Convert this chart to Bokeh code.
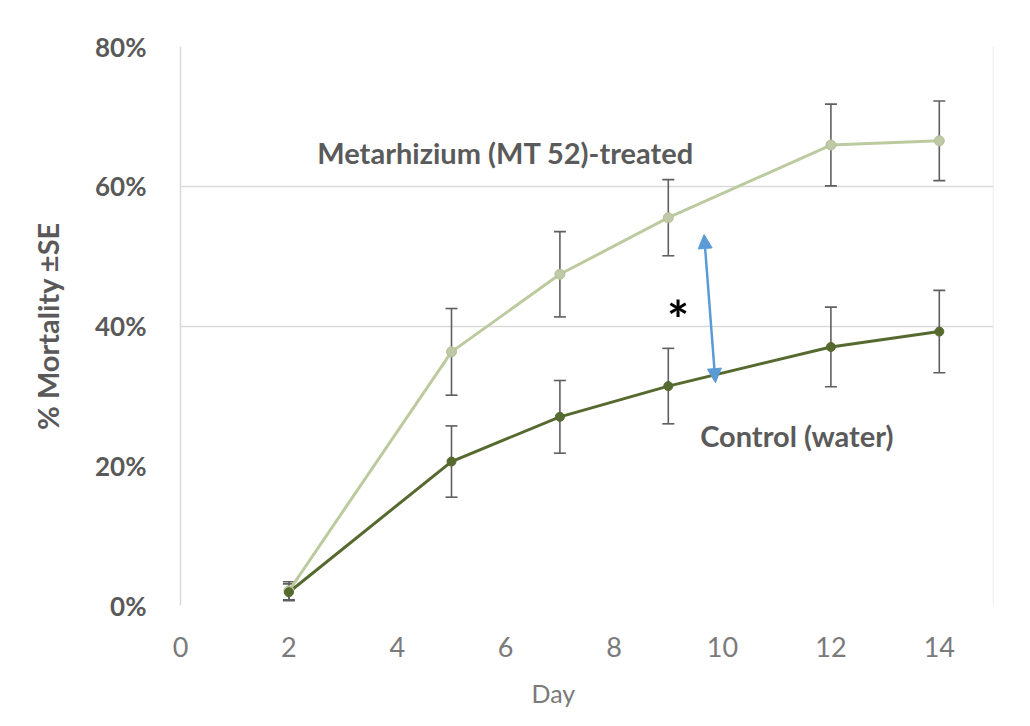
from bokeh.plotting import figure
from bokeh.models import (ColumnDataSource, Whisker, TeeHead, Label, Arrow,
                          NormalHead, FixedTicker, Span, Range1d, Title)
from bokeh.embed import file_html
from bokeh.resources import INLINE

# ---- data ----
days = [2, 5, 7, 9, 12, 14]
treated = [2.1, 36.3, 47.4, 55.5, 65.9, 66.5]
treated_se = [1.3, 6.2, 6.1, 5.45, 5.85, 5.7]
control = [1.9, 20.6, 27.0, 31.4, 37.0, 39.2]
control_se = [1.2, 5.1, 5.2, 5.4, 5.7, 5.9]
x_ticks = [0, 2, 4, 6, 8, 10, 12, 14]
y_ticks = [0, 20, 40, 60, 80]
y_tick_labels = {0: "0%", 20: "20%", 40: "40%", 60: "60%", 80: "80%"}
treated_label = "Metarhizium (MT 52)-treated"
control_label = "Control (water)"
x_title = "Day"
y_title = "% Mortality ±SE"
arrow_x = [9.66, 9.87]
arrow_y = [53.1, 31.9]
star_pos = (9.18, 41.0)

FONT = "Lato"
TREAT_COLOR = "#bccb9f"
CTRL_COLOR = "#56692e"
ERR_COLOR = "#5f5f5f"

p = figure(width=1030, height=726, output_backend="svg", toolbar_location=None,
           x_range=Range1d(0, 15), y_range=Range1d(0, 80),
           min_border_left=180, min_border_right=37, min_border_top=46,
           min_border_bottom=121)
p.outline_line_color = None
p.background_fill_color = "white"
p.border_fill_color = "white"

# axes
p.xaxis.ticker = FixedTicker(ticks=x_ticks)
p.yaxis.ticker = FixedTicker(ticks=y_ticks)
p.yaxis.major_label_overrides = y_tick_labels
for ax in (p.xaxis[0], p.yaxis[0]):
    ax.major_tick_line_color = None
    ax.minor_tick_line_color = None
p.xaxis.axis_line_color = None
p.yaxis.axis_line_color = "#d9d9d9"
p.yaxis.axis_line_width = 1.5
p.xaxis.major_label_text_font = FONT
p.xaxis.major_label_text_font_size = "27px"
p.xaxis.major_label_text_color = "#7a7a7a"
p.xaxis.major_label_standoff = 25
p.yaxis.major_label_text_font = FONT
p.yaxis.major_label_text_font_size = "26px"
p.yaxis.major_label_text_font_style = "bold"
p.yaxis.major_label_text_color = "#595959"
p.yaxis.major_label_standoff = 28
p.yaxis.axis_label = y_title
p.yaxis.axis_label_text_font = FONT
p.yaxis.axis_label_text_font_size = "29px"
p.yaxis.axis_label_text_font_style = "bold"
p.yaxis.axis_label_text_color = "#595959"
p.yaxis.axis_label_standoff = 27

# x-axis title, positioned like the original (left of centre)
p.add_layout(Title(text=x_title, align="left", offset=351, text_font=FONT,
                   text_font_size="25px", text_font_style="normal",
                   text_color="#7a7a7a", standoff=32), "below")

# grid
p.xgrid.grid_line_color = None
p.ygrid.ticker = FixedTicker(ticks=[40, 60, 80])
p.ygrid.grid_line_color = "#d9d9d9"
p.ygrid.grid_line_width = 1.5
p.add_layout(Span(location=15, dimension="height", line_color="#e6e6e6", line_width=1.5))

# sources
src_t = ColumnDataSource(dict(x=days, y=treated,
                              lo=[v - e for v, e in zip(treated, treated_se)],
                              hi=[v + e for v, e in zip(treated, treated_se)]))
src_c = ColumnDataSource(dict(x=days, y=control,
                              lo=[v - e for v, e in zip(control, control_se)],
                              hi=[v + e for v, e in zip(control, control_se)]))

# lines
p.line("x", "y", source=src_t, line_color=TREAT_COLOR, line_width=3)
p.line("x", "y", source=src_c, line_color=CTRL_COLOR, line_width=3)

# error bars
for src in (src_t, src_c):
    w = Whisker(source=src, base="x", upper="hi", lower="lo",
                line_color=ERR_COLOR, line_width=1.6,
                upper_head=TeeHead(size=12, line_color=ERR_COLOR, line_width=1.6),
                lower_head=TeeHead(size=12, line_color=ERR_COLOR, line_width=1.6))
    p.add_layout(w)

# markers
p.scatter("x", "y", source=src_t, size=10, fill_color="#bfc9a8",
          line_color="#b4c097", line_width=1)
p.scatter("x", "y", source=src_c, size=9, fill_color=CTRL_COLOR,
          line_color=CTRL_COLOR, line_width=1)

# labels
p.add_layout(Label(x=6.0, y=64.9, text=treated_label, text_font=FONT,
                   text_font_size="29px", text_font_style="bold",
                   text_color="#5a5a5a", text_align="center",
                   text_baseline="alphabetic"))
p.add_layout(Label(x=11.37, y=24.4, text=control_label, text_font=FONT,
                   text_font_size="29px", text_font_style="bold",
                   text_color="#5a5a5a", text_align="center",
                   text_baseline="alphabetic"))
p.add_layout(Label(x=star_pos[0], y=star_pos[1], text="*", text_font=FONT,
                   text_font_size="52px", text_font_style="bold",
                   text_color="black", text_align="center",
                   text_baseline="middle"))

# double-headed arrow
p.add_layout(Arrow(x_start=arrow_x[1], y_start=arrow_y[1],
                   x_end=arrow_x[0], y_end=arrow_y[0],
                   line_color="#5b9bd5", line_width=2.5,
                   end=NormalHead(size=14, fill_color="#5b9bd5", line_color="#5b9bd5"),
                   start=NormalHead(size=14, fill_color="#5b9bd5", line_color="#5b9bd5")))

open("out.html", "w").write(file_html(p, INLINE))
